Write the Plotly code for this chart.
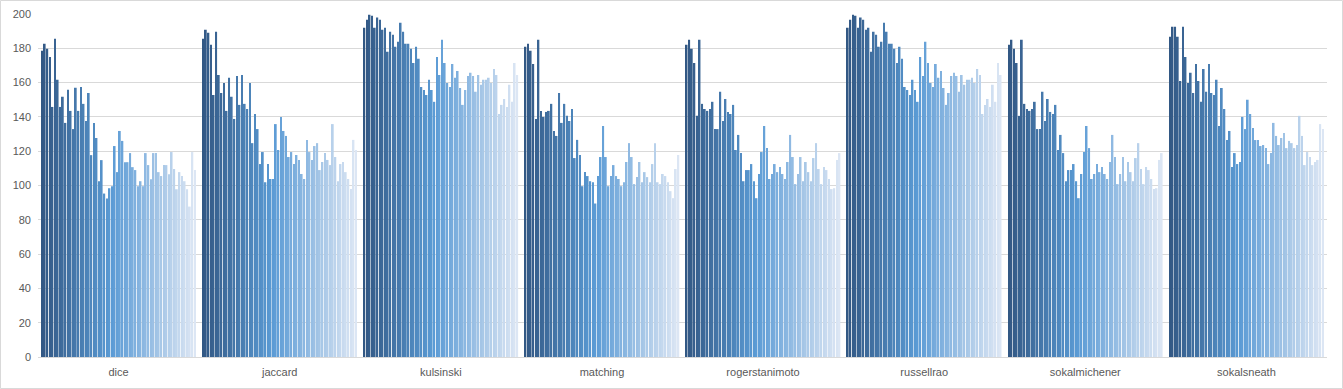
import plotly.graph_objects as go

categories = ["dice", "jaccard", "kulsinski", "matching", "rogerstanimoto",
              "russellrao", "sokalmichener", "sokalsneath"]

y_ticks = [0, 20, 40, 60, 80, 100, 120, 140, 160, 180, 200]

dice = [178.6, 182.7, 179.7, 175.0, 145.8, 185.6, 161.6, 145.8, 151.7, 136.5,
        155.8, 143.5, 132.9, 157.0, 143.5, 157.5, 147.6, 137.6, 154.0, 117.7,
        136.5, 127.7, 102.5, 114.8, 95.3, 92.4, 98.4, 99.6, 123.0, 107.8,
        131.8, 126.0, 113.6, 113.6, 118.9, 110.7, 109.0, 99.6, 102.5, 99.6,
        118.9, 111.9, 103.7, 118.9, 118.9, 107.8, 105.5, 111.9, 111.9, 106.6,
        119.5, 109.6, 97.8, 107.8, 105.5, 102.5, 97.8, 87.7, 119.5, 109.0]

jaccard = [185.6, 190.8, 189.1, 182.0, 152.8, 189.7, 164.5, 154.0, 159.8, 143.5,
           162.8, 151.7, 138.8, 163.9, 147.0, 164.5, 147.6, 144.6, 159.8, 124.7,
           141.7, 132.9, 112.5, 119.5, 101.9, 112.5, 103.8, 103.8, 135.8, 120.7,
           140.0, 131.8, 128.9, 116.6, 119.5, 112.5, 117.8, 114.9, 106.7, 103.8,
           126.6, 119.5, 114.9, 123.0, 124.7, 109.0, 113.7, 118.9, 114.9, 111.9,
           135.8, 116.6, 102.5, 112.5, 113.7, 107.8, 103.8, 97.9, 126.6, 120.7]

kulsinski = [192.0, 196.7, 199.6, 199.0, 192.0, 197.9, 196.7, 190.8, 192.0, 178.0,
             189.7, 187.9, 180.9, 183.8, 194.9, 189.7, 182.6, 182.6, 179.7, 171.5,
             180.9, 173.9, 157.5, 155.7, 152.8, 161.6, 155.7, 148.8, 175.0, 164.5,
             185.0, 171.5, 159.8, 157.5, 170.9, 162.8, 166.8, 156.9, 147.0, 155.7,
             163.9, 165.7, 163.9, 154.6, 164.5, 158.7, 161.6, 161.6, 162.8, 159.8,
             168.0, 164.5, 141.7, 147.0, 150.5, 145.8, 158.7, 148.8, 171.5, 164.5]

matching = [180.9, 182.6, 178.5, 170.9, 138.8, 185.0, 143.5, 140.0, 142.9, 143.5,
            147.6, 131.8, 128.9, 154.0, 136.5, 147.6, 140.6, 137.6, 144.6, 116.0,
            126.6, 117.8, 99.6, 107.8, 105.5, 102.5, 101.9, 89.5, 105.5, 116.6,
            134.7, 116.6, 99.6, 105.5, 111.9, 105.5, 103.8, 99.6, 101.9, 113.7,
            124.7, 116.6, 100.8, 104.9, 113.7, 101.9, 107.8, 104.9, 101.9, 112.5,
            124.7, 101.9, 100.8, 106.7, 105.5, 101.9, 96.7, 92.6, 109.6, 117.8]

rogerstanimoto = [182.0, 185.0, 179.7, 171.5, 140.6, 185.0, 147.6, 144.6, 143.5, 144.6,
                  148.8, 132.9, 132.9, 154.6, 137.6, 150.5, 142.9, 141.7, 147.0, 120.7,
                  129.5, 118.9, 102.5, 109.0, 109.0, 112.5, 102.5, 92.6, 106.7, 119.5,
                  134.7, 121.8, 103.8, 106.7, 112.5, 107.8, 110.8, 106.7, 103.8, 113.7,
                  129.5, 116.6, 100.8, 106.7, 116.6, 102.5, 113.7, 107.8, 102.5, 116.0,
                  124.7, 109.6, 100.8, 110.8, 109.0, 103.8, 97.9, 98.4, 114.9, 118.9]

russellrao = [192.0, 196.7, 199.6, 199.0, 192.0, 197.9, 196.7, 190.8, 192.0, 178.0,
              189.7, 187.9, 180.9, 183.8, 194.9, 189.7, 182.6, 182.6, 179.7, 171.5,
              180.9, 173.9, 157.5, 155.7, 152.8, 161.6, 155.7, 148.8, 175.0, 163.9,
              183.8, 171.5, 159.8, 157.5, 170.9, 162.8, 166.8, 156.9, 147.0, 154.0,
              163.9, 165.7, 163.9, 154.6, 164.5, 158.7, 161.6, 161.6, 162.8, 159.8,
              168.0, 164.5, 141.7, 147.0, 150.5, 145.8, 158.7, 148.8, 171.5, 164.5]

sokalmichener = [182.0, 185.0, 179.7, 171.5, 140.6, 185.0, 147.6, 144.6, 143.5, 144.6,
                 148.8, 132.9, 132.9, 154.6, 137.6, 150.5, 142.9, 141.7, 147.0, 120.7,
                 129.5, 118.9, 102.5, 109.0, 109.0, 112.5, 102.5, 92.6, 106.7, 119.5,
                 134.7, 121.8, 103.8, 106.7, 112.5, 107.8, 110.8, 106.7, 103.8, 113.7,
                 129.5, 116.6, 100.8, 106.7, 116.6, 102.5, 113.7, 107.8, 102.5, 116.0,
                 124.7, 109.6, 100.8, 110.8, 109.0, 103.8, 97.9, 98.4, 114.9, 118.9]

sokalsneath = [186.7, 192.6, 192.6, 186.7, 161.0, 192.6, 175.0, 159.8, 165.7, 154.0,
               170.9, 161.0, 148.8, 168.0, 154.6, 170.9, 154.0, 152.8, 161.6, 134.7,
               156.9, 144.6, 126.5, 131.8, 110.8, 118.9, 112.5, 113.7, 140.0, 132.9,
               150.0, 141.7, 133.5, 126.5, 126.5, 123.0, 123.6, 121.8, 112.5, 118.9,
               136.5, 128.9, 123.6, 127.7, 130.6, 121.8, 126.0, 124.7, 121.8, 123.6,
               140.6, 128.9, 111.9, 119.5, 116.6, 111.9, 113.7, 114.9, 135.8, 132.9]

groups = [dice, jaccard, kulsinski, matching, rogerstanimoto,
          russellrao, sokalmichener, sokalsneath]
n_series = len(dice)


def series_color(i, n):
    dark = (50, 88, 132)
    mid = (91, 155, 213)
    light = (220, 230, 244)
    m = 27
    if i <= m:
        t = i / m
        a, b = dark, mid
    else:
        t = (i - m) / (n - 1 - m)
        a, b = mid, light
    c = [round(a[k] + (b[k] - a[k]) * t) for k in range(3)]
    return f"rgb({c[0]},{c[1]},{c[2]})"


fig = go.Figure()
for s in range(n_series):
    fig.add_trace(go.Bar(
        x=categories,
        y=[g[s] for g in groups],
        name=f"Series{s + 1}",
        marker=dict(color=series_color(s, n_series), line=dict(width=0)),
        showlegend=False,
    ))

W, H = 1343, 389
ml, mr, mt, mb = 38, 16, 14, 32
pw, ph = W - ml - mr, H - mt - mb

fig.update_layout(
    width=W, height=H,
    margin=dict(l=ml, r=mr, t=mt, b=mb, pad=0),
    barmode="group",
    bargap=0.0352,
    bargroupgap=0.33,
    plot_bgcolor="white",
    paper_bgcolor="white",
    font=dict(family="Liberation Sans, Arial, sans-serif", size=11, color="#595959"),
    xaxis=dict(
        automargin=False,
        showline=True, linecolor="#D9D9D9", linewidth=1,
        showgrid=False, ticks="", tickfont=dict(size=11, color="#595959"),
        ticklabelstandoff=5,
    ),
    yaxis=dict(
        automargin=False,
        range=[0, 200], tickvals=y_ticks, ticktext=[str(v) for v in y_ticks],
        showgrid=True, gridcolor="#D9D9D9", gridwidth=1,
        zeroline=False, showline=False, ticks="",
        tickfont=dict(size=11, color="#595959"),
        ticklabelstandoff=6,
    ),
    shapes=[dict(
        type="rect", xref="paper", yref="paper",
        x0=(0.5 - ml) / pw, x1=(W - 0.5 - ml) / pw,
        y0=(H - mb - (H - 0.5)) / ph, y1=(H - mb - 0.5) / ph,
        line=dict(color="#D9D9D9", width=1), fillcolor="rgba(0,0,0,0)",
        layer="below",
    )],
)

fig.write_html(
    "out.html",
    config={"displayModeBar": False},
    post_script="document.body.style.margin='0';document.body.style.overflow='hidden';",
)
